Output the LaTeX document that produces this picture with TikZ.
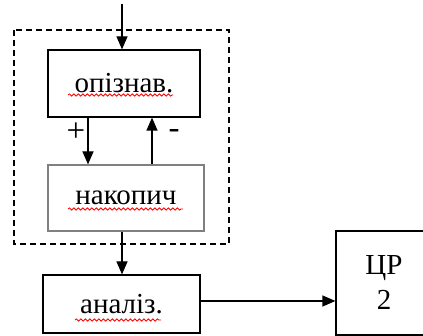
\documentclass[tikz,border=0pt]{standalone}
\usepackage{fontspec}
\setmainfont{Liberation Serif}
\usetikzlibrary{arrows.meta,decorations.pathmorphing}

\begin{document}
\begin{tikzpicture}[
			x=1pt, y=-1pt,
			every node/.style={font=\fontsize{29}{35}\selectfont},
			line cap=butt,
			line join=miter,
			blok/.style={draw, line width=1.2pt, inner sep=0pt, anchor=center},
			strilka/.style={line width=1.2pt, -{Triangle[width=11pt,length=13pt]}},
			znak/.style={inner sep=0pt, font=\fontsize{33}{36}\selectfont},
			spell/.style={red, line width=0.8pt, decorate,
				decoration={snake, segment length=4.5pt, amplitude=1.1pt}}
			]
			\useasboundingbox (0,0) rectangle (423,336);
			
			% ramka navkolo pershykh dvokh blokiv
			\draw[line width=1.2pt, dash pattern=on 6pt off 4pt] (14,30) rectangle (229,244);
			
			\node[blok, minimum width=152pt, minimum height=67pt] (opiz) at (124,83.5) {опізнав.};
			\node[blok, draw=gray, minimum width=156pt, minimum height=66pt] (nakop) at (126,198) {накопич};
			\node[blok, minimum width=157pt, minimum height=58pt] (anal) at (121.5,304) {аналіз.};
			\node[blok, minimum width=96pt, minimum height=104pt, align=center] (cr) at (384,283) {ЦР\\2};
			
			\coordinate (vhid) at (122,4);
			
			% strilky
			\draw[strilka] (vhid) -- (vhid |- opiz.north);
			\draw[strilka] (opiz.south -| 88,0) -- (nakop.north -| 88,0);
			\draw[strilka] (nakop.north -| 152,0) -- (opiz.south -| 152,0);
			\draw[strilka] (nakop.south -| 122,0) -- (anal.north -| 122,0);
			\draw[strilka] (anal.east |- 0,301) -- (cr.west |- 0,301);
			
			\node[znak] (plus) at (76,132) {+};
			\node[znak] (minus) at (174,134) {-};
			
			% pidkreslennia
			\draw[spell] (68,95) -- (173,95);
			\draw[spell] (68,209) -- (183,209);
			\draw[spell] (75,320) -- (161,320);
		\end{tikzpicture}
\end{document}
